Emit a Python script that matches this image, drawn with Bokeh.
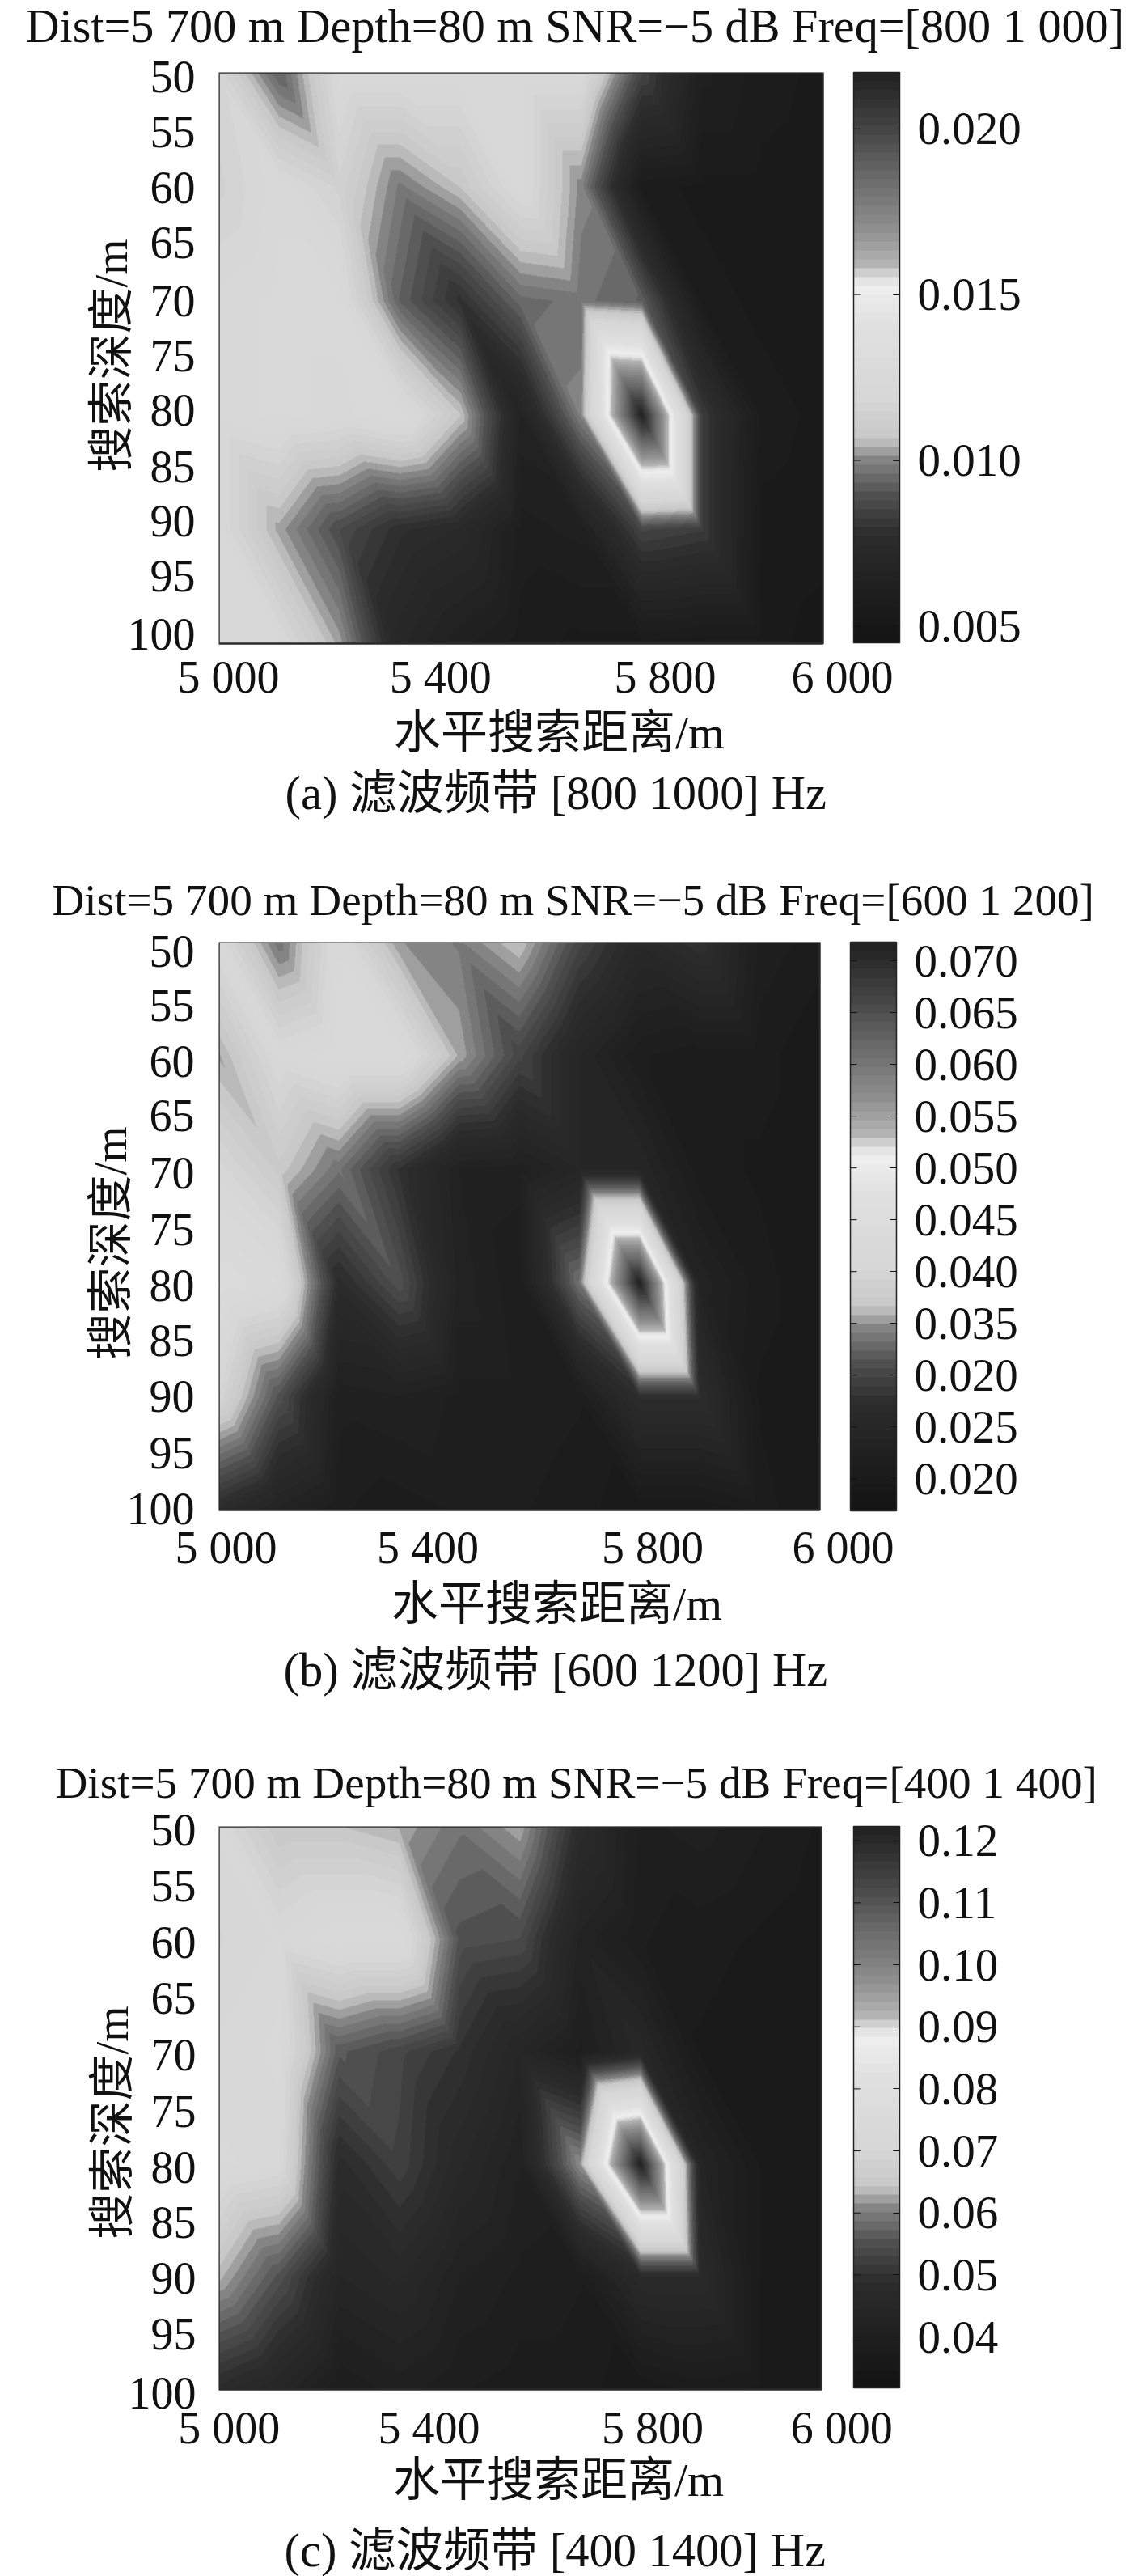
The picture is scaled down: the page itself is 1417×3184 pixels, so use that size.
import numpy as np
from bokeh.embed import file_html
from bokeh.resources import INLINE
from bokeh.layouts import column
from bokeh.models import (ColorBar, FixedTicker, LinearColorMapper, Range1d, Title)
from bokeh.plotting import figure

dist = [5000, 5100, 5200, 5300, 5400, 5500, 5600, 5700, 5800, 5900, 6000]
depth = [50, 60, 70, 80, 90, 100]

z_a = [
    [.0117, .0093, .0122, .0122, .0122, .0122, .0122, .0086, .0062, .0057, .0055],
    [.0114, .0122, .0114, .0098, .0107, .0122, .0100, .0057, .0055, .0055, .0054],
    [.0121, .0124, .0124, .0093, .0079, .0095, .0097, .0093, .0057, .0055, .0055],
    [.0121, .0124, .0122, .0126, .0107, .0066, .0100, .0217, .0083, .0057, .0055],
    [.0121, .0103, .0088, .0078, .0074, .0060, .0062, .0086, .0083, .0055, .0054],
    [.0121, .0121, .0103, .0070, .0062, .0057, .0055, .0055, .0054, .0054, .0052],
]
z_b = [
    [.0411, .0334, .0416, .0350, .0339, .0367, .0301, .0257, .0279, .0218, .0207],
    [.0356, .0411, .0427, .0427, .0356, .0301, .0246, .0213, .0207, .0207, .0196],
    [.0405, .0372, .0334, .0279, .0229, .0224, .0246, .0246, .0207, .0202, .0196],
    [.0444, .0427, .0268, .0312, .0235, .0213, .0334, .0718, .0235, .0207, .0196],
    [.0400, .0312, .0224, .0229, .0218, .0218, .0213, .0273, .0273, .0202, .0196],
    [.0268, .0235, .0213, .0207, .0213, .0213, .0207, .0196, .0196, .0207, .0196],
]
z_c = [
    [.0716, .0644, .0644, .0626, .0590, .0626, .0481, .0399, .0409, .0390, .0372],
    [.0698, .0716, .0743, .0743, .0553, .0544, .0427, .0390, .0381, .0372, .0363],
    [.0716, .0734, .0562, .0535, .0499, .0445, .0399, .0454, .0372, .0363, .0363],
    [.0734, .0716, .0481, .0526, .0463, .0418, .0617, .1223, .0436, .0372, .0363],
    [.0635, .0553, .0445, .0463, .0418, .0399, .0390, .0472, .0472, .0372, .0363],
    [.0481, .0445, .0390, .0409, .0390, .0381, .0381, .0363, .0381, .0372, .0363],
]

titles = ["Dist=5 700 m Depth=80 m SNR=\u22125 dB Freq=[800 1 000]",
          "Dist=5 700 m Depth=80 m SNR=\u22125 dB Freq=[600 1 200]",
          "Dist=5 700 m Depth=80 m SNR=\u22125 dB Freq=[400 1 400]"]
captions = ["(a) \u6ee4\u6ce2\u9891\u5e26 [800 1000] Hz",
            "(b) \u6ee4\u6ce2\u9891\u5e26 [600 1200] Hz",
            "(c) \u6ee4\u6ce2\u9891\u5e26 [400 1400] Hz"]
xlabel = "\u6c34\u5e73\u641c\u7d22\u8ddd\u79bb/m"
ylabel = "\u641c\u7d22\u6df1\u5ea6/m"
x_tick_labels = ["5 000", "5 400", "5 800", "6 000"]
y_tick_labels = ["50", "55", "60", "65", "70", "75", "80", "85", "90", "95", "100"]
bar_ticks_a = [0.005, 0.010, 0.015, 0.020]
bar_ticks_b = [0.020, 0.025, 0.030, 0.035, 0.040, 0.045, 0.050, 0.055, 0.060, 0.065, 0.070]
bar_labels_b = ["0.020", "0.025", "0.020", "0.035", "0.040", "0.045", "0.050", "0.055", "0.060", "0.065", "0.070"]
bar_ticks_c = [0.04, 0.05, 0.06, 0.07, 0.08, 0.09, 0.10, 0.11, 0.12]

# colormap: position along the bar -> grey level
cmap_pos = [0, .186, .254, .316, .357, .426, .562, .624, .644, .665, .734, .836, .904, 1]
cmap_grey = [20, 45, 80, 130, 200, 215, 225, 240, 220, 180, 140, 100, 70, 35]
t = np.linspace(0, 1, 64)
palette = ["#%02x%02x%02x" % (g, g, g) for g in np.interp(t, cmap_pos, cmap_grey).astype(int)]

SERIF = "Liberation Serif"
MIXED = "Liberation Serif, Noto Sans CJK SC"
EXT = 10
INK = "#111111"


def tri_raster(z, nx, ny):
    """Render the grid as MATLAB-like triangles (diagonals run to lower right)."""
    z = np.asarray(z)
    rows, cols = z.shape
    u = (np.arange(nx) + .5) / nx * (cols - 1)
    v = (np.arange(ny) + .5) / ny * (rows - 1)
    uu, vv = np.meshgrid(u, v)
    i = np.minimum(uu.astype(int), cols - 2)
    j = np.minimum(vv.astype(int), rows - 2)
    fu, fv = uu - i, vv - j
    f00, f10, f01, f11 = z[j, i], z[j, i + 1], z[j + 1, i], z[j + 1, i + 1]
    upper = f00 + fu * (f10 - f00) + fv * (f11 - f10)
    lower = f00 + fv * (f01 - f00) + fu * (f11 - f01)
    return np.where(fu >= fv, upper, lower)


def panel(z, low, high, title, caption, bar_ticks, bar_labels, tick_x, tick_y, g):
    top0, H = g["page_top"], g["H"]
    left, right, top, bottom = g["left"], g["right"], g["top"], g["bottom"]
    fw, fh = 1114 - left, bottom + EXT - top
    px_per_x = (right - left) / 1000
    px_per_y = (bottom - top) / 50
    p = figure(frame_width=fw, frame_height=fh,
               x_range=Range1d(5000, 5000 + fw / px_per_x),
               y_range=Range1d(50 + fh / px_per_y, 50),
               output_backend="svg", toolbar_location=None,
               min_border_left=left - 8, min_border_right=1401 - (left - 8) - fw,
               min_border_top=top - top0, min_border_bottom=H - (top - top0) - fh,
               background_fill_color="white", outline_line_color=None)
    p.grid.visible = False
    mapper = LinearColorMapper(palette=palette, low=low, high=high)
    img = tri_raster(z, right - left, bottom - top)
    p.image(image=[img], x=5000, y=50, dw=1000, dh=50, color_mapper=mapper)
    p.quad(left=[5000], right=[6000], top=[50], bottom=[100], fill_alpha=0,
           line_color="#2a2a2a", line_width=2.5)

    for ax, ticks, labels in ((p.xaxis[0], tick_x, x_tick_labels), (p.yaxis[0], tick_y, y_tick_labels)):
        ax.ticker = FixedTicker(ticks=ticks)
        ax.major_label_overrides = dict(zip(ticks, labels))
        ax.axis_line_color = None
        ax.major_tick_line_color = None
        ax.minor_tick_line_color = None
        ax.major_label_text_font = SERIF
        ax.major_label_text_font_size = "56px"
        ax.major_label_text_color = INK
    p.xaxis[0].major_label_standoff = g["x_standoff"]
    p.yaxis[0].major_label_standoff = g["y_standoff"]
    p.xaxis[0].axis_label = xlabel
    p.xaxis[0].axis_label_text_font = MIXED
    p.xaxis[0].axis_label_text_font_style = "normal"
    p.xaxis[0].axis_label_text_font_size = "58px"
    p.xaxis[0].axis_label_text_color = INK
    p.xaxis[0].axis_label_standoff = g["xlabel_standoff"]

    bar_h = g["bar_bottom"] - top
    bar = ColorBar(color_mapper=mapper, ticker=FixedTicker(ticks=bar_ticks),
                   major_label_overrides=dict(zip(bar_ticks, bar_labels)),
                   width=57, height=bar_h,
                   location=(g["bar_left"] - left, EXT - (g["bar_bottom"] - bottom)),
                   padding=0, margin=0, background_fill_alpha=0, border_line_color=None,
                   bar_line_color="#222222", bar_line_width=1.5,
                   major_tick_line_color=INK, major_tick_in=8, major_tick_out=0,
                   minor_tick_line_color=None, label_standoff=22,
                   major_label_text_font=SERIF, major_label_text_font_size="57px",
                   major_label_text_color=INK)
    p.add_layout(bar, "center")

    # the bar's ticks are mirrored on its left edge
    ys = [50 + (bar_h * (high - v) / (high - low)) / px_per_y for v in bar_ticks]
    x0 = 5000 + (g["bar_left"] - left) / px_per_x
    seg = p.segment(x0=[x0] * len(ys), x1=[x0 + 8 / px_per_x] * len(ys), y0=ys, y1=ys,
                    line_color=INK, line_width=1)
    seg.level = "overlay"

    p.add_layout(Title(text=title, align="left", offset=g["title_left"] - left, standoff=g["title_standoff"],
                       text_font=SERIF, text_font_style="normal", text_font_size=g["title_size"],
                       text_color=INK), "above")
    p.add_layout(Title(text=caption, align="left", offset=g["caption_left"] - left, standoff=g["caption_standoff"],
                       text_font=MIXED, text_font_style="normal", text_font_size="58.5px",
                       text_color=INK), "below")
    p.add_layout(Title(text=ylabel, align="left", offset=top + fh - g["ylabel_bottom"], standoff=g["ylabel_standoff"],
                       text_font=MIXED, text_font_style="normal", text_font_size="57px",
                       text_color=INK), "left")
    return p


pa = panel(z_a, .0045, .0217, titles[0], captions[0], bar_ticks_a,
           ["0.005", "0.010", "0.015", "0.020"],
           [5016, 5367, 5739, 6032],
           [50.4, 55.2, 60.1, 64.9, 70.0, 74.8, 79.6, 84.5, 89.3, 94.1, 99.2],
           dict(page_top=-24, H=1084, left=272, right=1019, top=97, bottom=803, bar_left=1057, bar_bottom=802,
                x_standoff=-6, y_standoff=23, title_left=33, title_standoff=50, title_size="58.2px",
                xlabel_standoff=2, caption_left=354, caption_standoff=10, ylabel_bottom=591, ylabel_standoff=-28))
pa.margin = (-32, 0, 0, 0)
pb = panel(z_b, .0169, .0718, titles[1], captions[1], bar_ticks_b, bar_labels_b,
           [5012, 5348, 5722, 6039],
           [50.8, 55.6, 60.5, 65.3, 70.3, 75.3, 80.2, 85.1, 90.0, 95.0, 99.9],
           dict(page_top=1050, H=1090, left=278, right=1021, top=1172, bottom=1874, bar_left=1059, bar_bottom=1875,
                x_standoff=-1, y_standoff=24, title_left=72, title_standoff=44, title_size="55.2px",
                xlabel_standoff=3, caption_left=358, caption_standoff=25, ylabel_bottom=1688, ylabel_standoff=-28))
pb.margin = (-10, 0, 0, 0)
pc = panel(z_c, .0318, .1223, titles[2], captions[2], bar_ticks_c,
           ["0.04", "0.05", "0.06", "0.07", "0.08", "0.09", "0.10", "0.11", "0.12"],
           [5017, 5349, 5720, 6034],
           [50.3, 55.3, 60.3, 65.3, 70.3, 75.3, 80.3, 85.2, 90.1, 95.1, 100.3],
           dict(page_top=2140, H=1036, left=274, right=1019, top=2265, bottom=2961, bar_left=1059, bar_bottom=2959,
                x_standoff=0, y_standoff=22, title_left=72, title_standoff=48, title_size="55.2px",
                xlabel_standoff=-2, caption_left=355, caption_standoff=34, ylabel_bottom=2775, ylabel_standoff=-28))

layout = column(pa, pb, pc, spacing=0)
open("out.html", "w").write(file_html(layout, INLINE))
